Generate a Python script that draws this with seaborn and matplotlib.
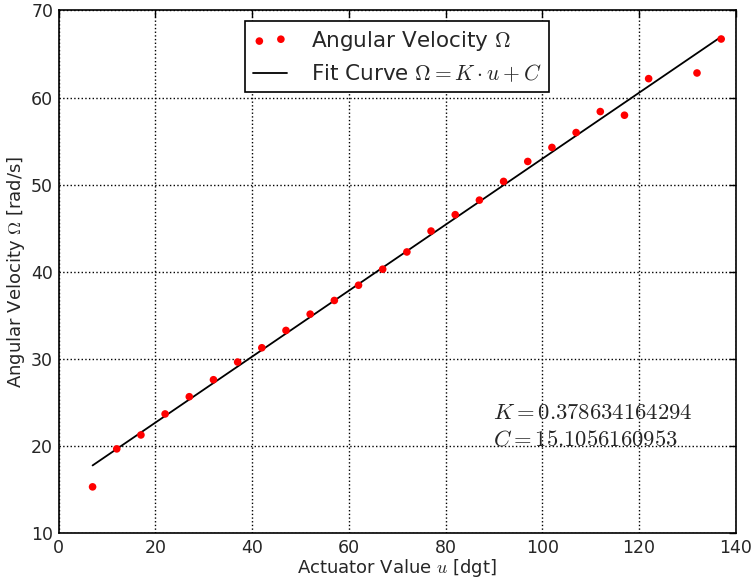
import numpy as np
import pandas as pd
import matplotlib
matplotlib.use('Agg')
import matplotlib.pyplot as plt
import seaborn as sns

# Measured angular velocity per actuator value
actuator = [7, 12, 17, 22, 27, 32, 37, 42, 47, 52, 57, 62, 67, 72, 77,
            82, 87, 92, 97, 102, 107, 112, 117, 122, 132, 137]
omega = [15.3, 19.66, 21.26, 23.67, 25.65, 27.6, 29.63, 31.27, 33.26, 35.13,
         36.7, 38.45, 40.29, 42.27, 44.67, 46.55, 48.22, 50.37, 52.66, 54.27,
         55.98, 58.39, 57.97, 62.17, 62.82, 66.72]

# Fit curve end points
fit_u = [7, 137]
fit_omega = [17.76, 66.98]

K_text = '0.378634164294'
C_text = '15.1056160953'

sns.set_style('white')
plt.rcParams['font.family'] = ['DejaVu Sans']
plt.rcParams['mathtext.fontset'] = 'cm'
plt.rcParams['xtick.direction'] = 'in'
plt.rcParams['ytick.direction'] = 'in'

data = pd.DataFrame({'u': actuator, 'omega': omega})
fit = pd.DataFrame({'u': fit_u, 'omega': fit_omega})

fig = plt.figure(figsize=(7.53, 5.8), dpi=100)
ax = fig.add_axes([0.078, 0.081, 0.899, 0.901])

sns.scatterplot(data=data, x='u', y='omega', ax=ax, color='red', s=30,
                edgecolor='none', label=r'Angular Velocity $\Omega$', zorder=3)
sns.lineplot(data=fit, x='u', y='omega', ax=ax, color='black', linewidth=1.3,
             label=r'Fit Curve $\Omega = K \cdot u + C$', zorder=2)

ax.set_xlim(0, 140)
ax.set_ylim(10, 70)
ax.set_xticks(np.arange(0, 141, 20))
ax.set_yticks(np.arange(10, 71, 10))
ax.grid(True, color='black', linestyle=':', linewidth=1)
ax.tick_params(axis='both', which='both', top=True, right=True, length=5,
               width=1, labelsize=12.5, color='black', pad=4)
for s in ax.spines.values():
    s.set_color('black')
    s.set_linewidth(1.2)

ax.set_xlabel(r'Actuator Value $u$ [dgt]', fontsize=13, labelpad=0)
ax.set_ylabel(r'Angular Velocity $\Omega$ [rad/s]', fontsize=13, labelpad=3)

ax.text(0.641, 0.218, r'$K = ' + K_text + '$', transform=ax.transAxes, fontsize=16.3)
ax.text(0.641, 0.167, r'$C = ' + C_text + '$', transform=ax.transAxes, fontsize=16.3)

leg = ax.legend(loc='upper center', scatterpoints=2, fontsize=15.5, frameon=True,
                fancybox=False, borderpad=0.35, handlelength=1.6,
                handletextpad=1.1, labelspacing=0.45, borderaxespad=0.5)
leg.get_frame().set_edgecolor('black')
leg.get_frame().set_linewidth(1.2)
leg.get_frame().set_alpha(1)

fig.savefig('out.png', dpi=100)
